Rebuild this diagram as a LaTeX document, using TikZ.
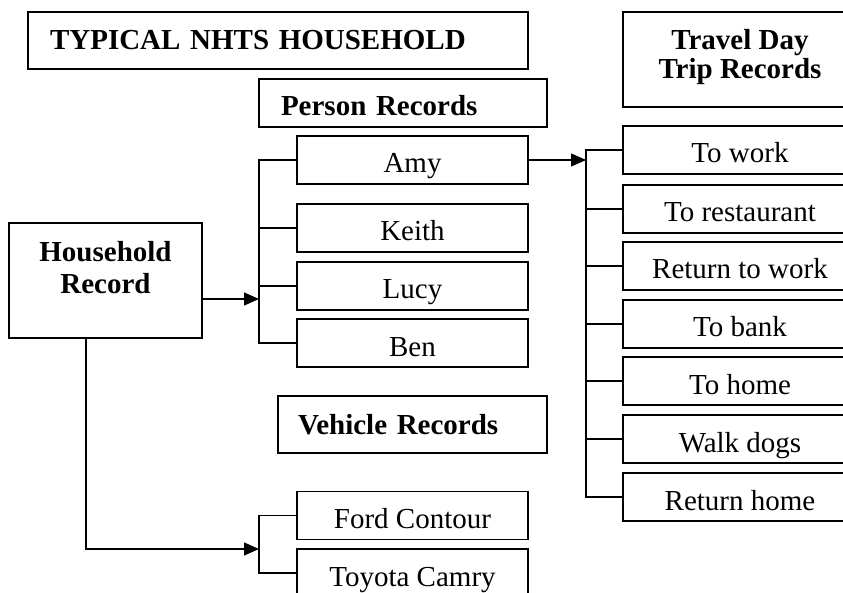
\documentclass[tikz,border=0pt]{standalone}
\usepackage{fontspec}
\setmainfont{Liberation Serif}
\usetikzlibrary{arrows.meta}
\begin{document}
\begin{tikzpicture}[x=1pt,y=-1pt,
    rec/.style={draw,line width=1.5pt,inner sep=0pt,text depth=0pt,font=\fontsize{29}{33}\selectfont},
    item/.style={rec,minimum width=231pt,minimum height=48pt,text height=26pt},
    trip/.style={rec,minimum width=234pt,minimum height=48pt,text height=26pt},
    head/.style={rec,inner xsep=22pt,align=left,font=\fontsize{29}{33}\selectfont\bfseries},
    link/.style={line width=1.5pt},
    arr/.style={link,-{Triangle[length=15pt,width=13pt]}}]
    \useasboundingbox (0,0) rectangle (843,593);
    % headings
    \node[head,text width=456pt,minimum height=57pt,text height=19pt] (title) at (278,40.5) {TYPICAL NHTS HOUSEHOLD};
    \node[head,text width=244pt,minimum height=48pt,text height=26pt] (person) at (403,103) {Person Records};
    \node[head,inner xsep=20pt,text width=229pt,minimum height=57pt,text height=19pt] (vehicle) at (412.5,424.5) {Vehicle Records};
    \node[rec,align=center,font=\fontsize{29}{32}\selectfont\bfseries,minimum width=193pt,minimum height=115pt,text height=52pt,text depth=25pt] (house) at (105.5,280.5) {Household\\Record};
    \node[rec,align=center,font=\fontsize{29}{29}\selectfont\bfseries,minimum width=234pt,minimum height=95pt,text height=49pt,text depth=10pt] (travel) at (740,59.5) {Travel Day\\Trip Records};
    % persons
    \node[item] (amy) at (412.5,160) {Amy};
    \node[item] (keith) at (412.5,228) {Keith};
    \node[item] (lucy) at (412.5,286) {Lucy};
    \node[item] (ben) at (412.5,343) {Ben};
    % vehicles
    \node[item] (ford) at (412.5,515.5) {Ford Contour};
    \node[item] (toyota) at (412.5,573) {Toyota Camry};
    % trips
    \node[trip] (towork) at (740,150) {To work};
    \node[trip] (torest) at (740,209) {To restaurant};
    \node[trip] (retwork) at (740,266) {Return to work};
    \node[trip] (tobank) at (740,324) {To bank};
    \node[trip] (tohome) at (740,381) {To home};
    \node[trip] (walk) at (740,439) {Walk dogs};
    \node[trip] (rethome) at (740,497) {Return home};
    % connectors
    \coordinate (pbar) at (259,299);
    \coordinate (tbar) at (586,160);
    \coordinate (vbar) at (259,549);
    \draw[arr] (house.east |- pbar) -- (pbar);
    \draw[link] (amy.west) -| (pbar) |- (ben.west);
    \draw[link] (keith.west) -- (keith.west -| pbar);
    \draw[link] (lucy.west) -- (lucy.west -| pbar);
    \draw[arr] (amy.east) -- (amy.east -| tbar);
    \draw[link] (towork.west) -| (tbar) |- (rethome.west);
    \draw[link] (torest.west) -- (torest.west -| tbar);
    \draw[link] (retwork.west) -- (retwork.west -| tbar);
    \draw[link] (tobank.west) -- (tobank.west -| tbar);
    \draw[link] (tohome.west) -- (tohome.west -| tbar);
    \draw[link] (walk.west) -- (walk.west -| tbar);
    \draw[arr] ([xshift=-19.5pt]house.south) |- (vbar);
    \draw[link] (ford.west) -| (vbar) |- (toyota.west);
\end{tikzpicture}
\end{document}
